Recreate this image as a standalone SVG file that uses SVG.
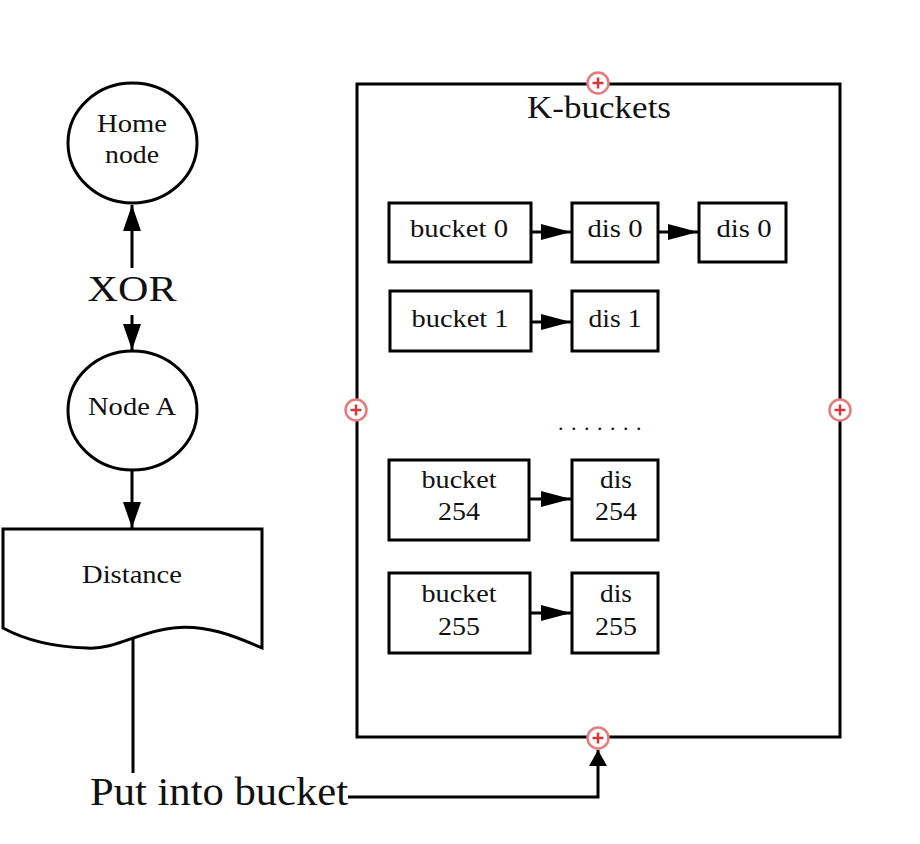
<svg xmlns="http://www.w3.org/2000/svg" width="920" height="844" viewBox="0 0 920 844">
<style>
.shape{fill:#fff;stroke:#000;stroke-width:3}
.line{fill:none;stroke:#000;stroke-width:3}
.t{font-family:"Liberation Serif","Times New Roman",serif;fill:#111;text-anchor:middle}
.s26{font-size:26px}
.mk circle{fill:#fff;stroke:#e57b7b;stroke-width:2.5}
.mk path{stroke:#d9383a;stroke-width:2.5;fill:none}
</style>
<defs>
<marker id="ahs" viewBox="0 0 26 18" refX="26" refY="9" markerWidth="26" markerHeight="18" markerUnits="userSpaceOnUse" orient="auto">
<path d="M0,0 L26,9 L0,18 Z" fill="#000"/>
</marker>
<marker id="ahb" viewBox="0 0 30 16" refX="30" refY="8" markerWidth="30" markerHeight="16" markerUnits="userSpaceOnUse" orient="auto">
<path d="M0,0 L30,8 L0,16 Z" fill="#000"/>
</marker>
<marker id="ahp" viewBox="0 0 16 18" refX="16" refY="9" markerWidth="16" markerHeight="18" markerUnits="userSpaceOnUse" orient="auto">
<path d="M0,0 L16,9 L0,18 Z" fill="#000"/>
</marker>
</defs>

<g id="container">
<rect class="shape" x="357" y="84" width="483" height="653"/>
<text class="t" x="599" y="118" font-size="32" textLength="144" lengthAdjust="spacingAndGlyphs">K-buckets</text>
</g>

<g id="connectors">
<line class="line" x1="132" y1="268" x2="132" y2="205" marker-end="url(#ahs)"/>
<line class="line" x1="132" y1="315" x2="132" y2="350" marker-end="url(#ahs)"/>
<line class="line" x1="132" y1="470" x2="132" y2="528" marker-end="url(#ahs)"/>
<line class="line" x1="133" y1="637" x2="133" y2="773"/>
<polyline class="line" points="348,797 598,797 598,750" marker-end="url(#ahp)"/>
<line class="line" x1="531" y1="232" x2="571" y2="232" marker-end="url(#ahb)"/>
<line class="line" x1="658" y1="232" x2="698" y2="232" marker-end="url(#ahb)"/>
<line class="line" x1="531" y1="322" x2="571" y2="322" marker-end="url(#ahb)"/>
<line class="line" x1="529" y1="499" x2="571" y2="499" marker-end="url(#ahb)"/>
<line class="line" x1="530" y1="613" x2="571" y2="613" marker-end="url(#ahb)"/>
</g>

<g id="home-node">
<ellipse class="shape" cx="132.5" cy="143" rx="64.5" ry="60"/>
<text class="t s26" x="132" y="132" textLength="70" lengthAdjust="spacingAndGlyphs">Home</text>
<text class="t s26" x="132" y="163" textLength="54" lengthAdjust="spacingAndGlyphs">node</text>
</g>

<g id="xor-label">
<text class="t" x="132" y="301" font-size="36" textLength="89" lengthAdjust="spacingAndGlyphs">XOR</text>
</g>

<g id="node-a">
<ellipse class="shape" cx="132.5" cy="410.5" rx="64.5" ry="59.5"/>
<text class="t s26" x="132" y="415" textLength="88" lengthAdjust="spacingAndGlyphs">Node A</text>
</g>

<g id="distance">
<path class="shape" d="M3,529 L262,529 L262,648 C235,636 205,624 173,628 C140,631 115,650 87,648 C55,647 25,640 3,628 Z"/>
<text class="t s26" x="132" y="583" textLength="100" lengthAdjust="spacingAndGlyphs">Distance</text>
</g>

<g id="put-into-bucket">
<text class="t" x="219" y="805" font-size="39" textLength="258" lengthAdjust="spacingAndGlyphs">Put into bucket</text>
</g>

<g id="bucket-0">
<rect class="shape" x="389" y="203" width="142" height="59"/>
<text class="t s26" x="459" y="237" textLength="98" lengthAdjust="spacingAndGlyphs">bucket 0</text>
</g>
<g id="dis-0-a">
<rect class="shape" x="572" y="203" width="86" height="59"/>
<text class="t s26" x="615" y="237" textLength="55" lengthAdjust="spacingAndGlyphs">dis 0</text>
</g>
<g id="dis-0-b">
<rect class="shape" x="699" y="203" width="87" height="59"/>
<text class="t s26" x="744" y="237" textLength="55" lengthAdjust="spacingAndGlyphs">dis 0</text>
</g>

<g id="bucket-1">
<rect class="shape" x="390" y="291" width="141" height="60"/>
<text class="t s26" x="460" y="327" textLength="97" lengthAdjust="spacingAndGlyphs">bucket 1</text>
</g>
<g id="dis-1">
<rect class="shape" x="572" y="291" width="86" height="60"/>
<text class="t s26" x="615" y="327" textLength="53" lengthAdjust="spacingAndGlyphs">dis 1</text>
</g>

<g id="ellipsis">
<text class="t" x="604" y="430" font-size="22" letter-spacing="8.5" textLength="92">.......</text>
</g>

<g id="bucket-254">
<rect class="shape" x="389" y="460" width="140" height="80"/>
<text class="t s26" x="459" y="488" textLength="75" lengthAdjust="spacingAndGlyphs">bucket</text>
<text class="t s26" x="459" y="520" textLength="42" lengthAdjust="spacingAndGlyphs">254</text>
</g>
<g id="dis-254">
<rect class="shape" x="572" y="460" width="86" height="80"/>
<text class="t s26" x="616" y="488" textLength="32" lengthAdjust="spacingAndGlyphs">dis</text>
<text class="t s26" x="616" y="520" textLength="42" lengthAdjust="spacingAndGlyphs">254</text>
</g>

<g id="bucket-255">
<rect class="shape" x="389" y="573" width="141" height="80"/>
<text class="t s26" x="459" y="602" textLength="75" lengthAdjust="spacingAndGlyphs">bucket</text>
<text class="t s26" x="459" y="635" textLength="42" lengthAdjust="spacingAndGlyphs">255</text>
</g>
<g id="dis-255">
<rect class="shape" x="572" y="573" width="86" height="80"/>
<text class="t s26" x="616" y="602" textLength="32" lengthAdjust="spacingAndGlyphs">dis</text>
<text class="t s26" x="616" y="635" textLength="42" lengthAdjust="spacingAndGlyphs">255</text>
</g>

<g id="markers" class="mk">
<g transform="translate(598,83)"><circle r="10.5"/><path d="M-5.5,0 H5.5 M0,-5.5 V5.5"/></g>
<g transform="translate(356,410)"><circle r="10.5"/><path d="M-5.5,0 H5.5 M0,-5.5 V5.5"/></g>
<g transform="translate(840,410)"><circle r="10.5"/><path d="M-5.5,0 H5.5 M0,-5.5 V5.5"/></g>
<g transform="translate(598,738)"><circle r="10.5"/><path d="M-5.5,0 H5.5 M0,-5.5 V5.5"/></g>
</g>
</svg>
